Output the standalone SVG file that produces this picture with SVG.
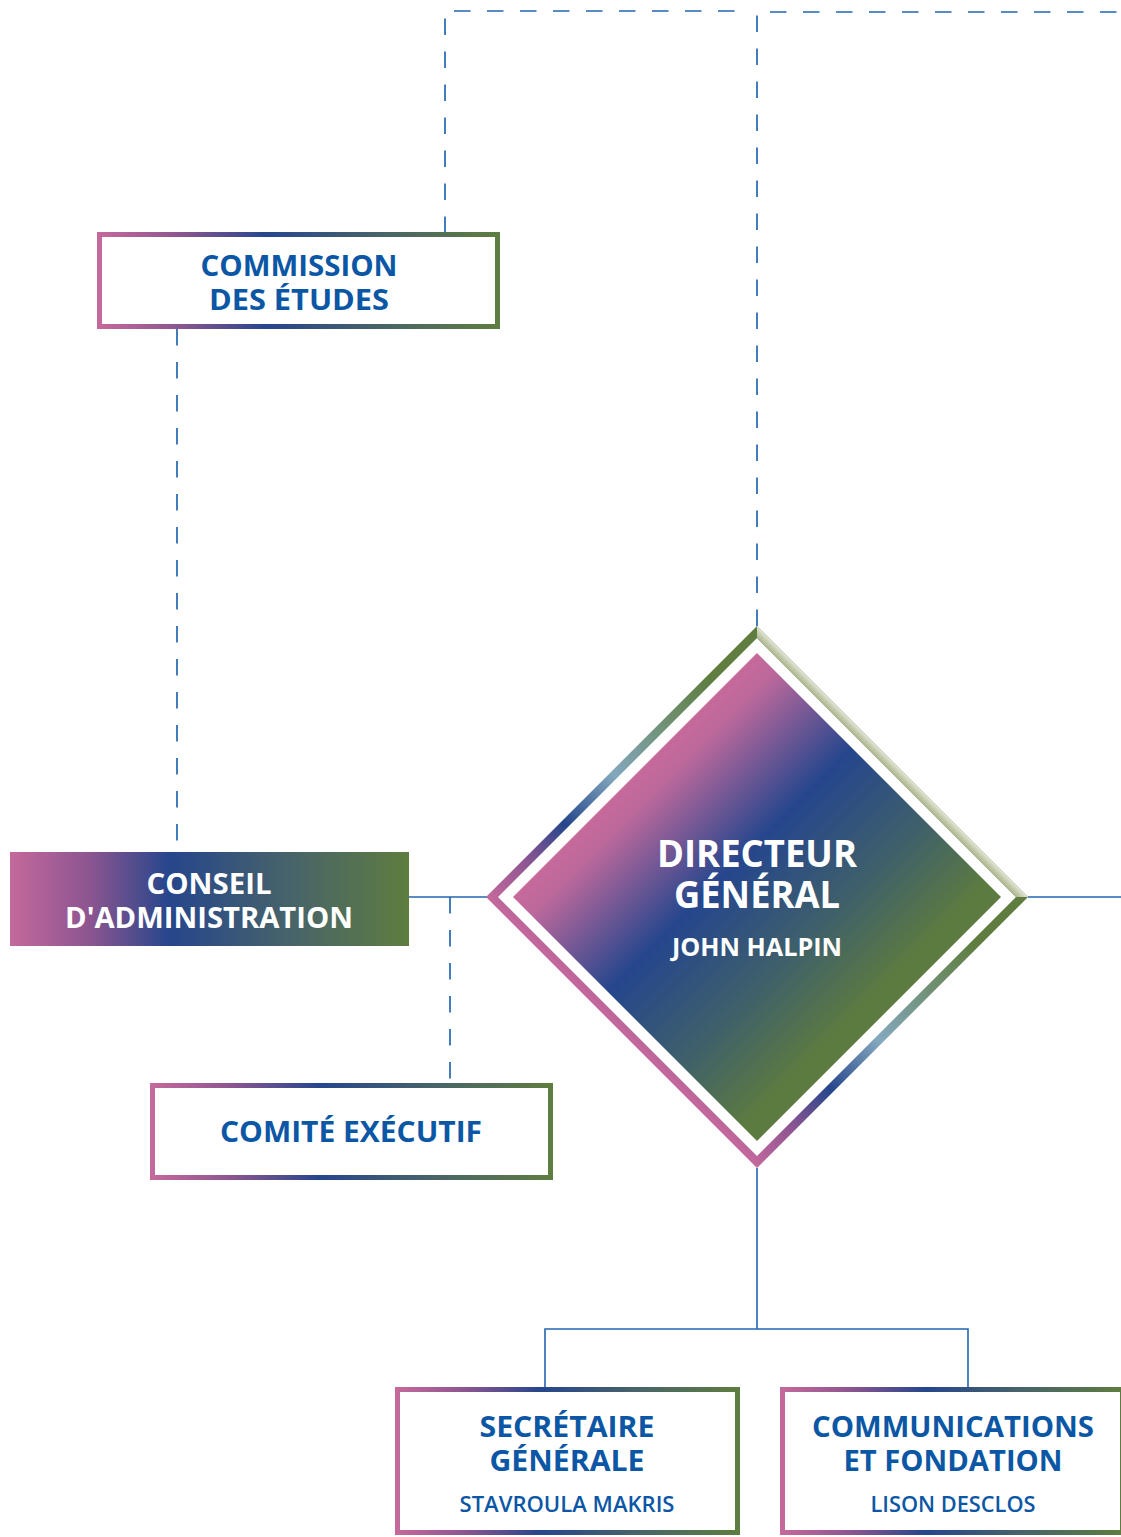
<svg xmlns="http://www.w3.org/2000/svg" width="1121" height="1537" viewBox="0 0 1121 1537">
<defs>
<linearGradient id="boxGrad" x1="0" y1="0" x2="1" y2="0">
<stop offset="0" stop-color="#c4699c"/>
<stop offset="0.2" stop-color="#8c5590"/>
<stop offset="0.42" stop-color="#26468c"/>
<stop offset="0.7" stop-color="#47636a"/>
<stop offset="1" stop-color="#5e7d3f"/>
</linearGradient>
<linearGradient id="fillGrad" x1="0" y1="0" x2="1" y2="0">
<stop offset="0" stop-color="#c4699c"/>
<stop offset="0.2" stop-color="#8c5590"/>
<stop offset="0.4" stop-color="#26468c"/>
<stop offset="0.7" stop-color="#47636a"/>
<stop offset="1" stop-color="#5e7d3f"/>
</linearGradient>
<linearGradient id="bandGrad" gradientUnits="userSpaceOnUse" x1="486" y1="1168" x2="1028" y2="626">
<stop offset="0.25" stop-color="#c4699c"/>
<stop offset="0.32" stop-color="#8d5592"/>
<stop offset="0.39" stop-color="#26468c"/>
<stop offset="0.48" stop-color="#84a8be"/>
<stop offset="0.58" stop-color="#6f8f70"/>
<stop offset="0.66" stop-color="#5e7d3f"/>
<stop offset="0.75" stop-color="#5e7d3f"/>
</linearGradient>
<linearGradient id="paleGrad" gradientUnits="userSpaceOnUse" x1="886.5" y1="767.5" x2="892.75" y2="761.25">
<stop offset="0" stop-color="#a9b48c"/>
<stop offset="1" stop-color="#e3e7d7"/>
</linearGradient>
<linearGradient id="diaGrad" gradientUnits="userSpaceOnUse" x1="486" y1="626" x2="1028" y2="1168">
<stop offset="0.27" stop-color="#c96a9c"/>
<stop offset="0.31" stop-color="#bb689b"/>
<stop offset="0.45" stop-color="#25468d"/>
<stop offset="0.58" stop-color="#3e5f6b"/>
<stop offset="0.7" stop-color="#5c7b40"/>
</linearGradient>
</defs>
<style>
.solid{fill:none;stroke:#2266b0;stroke-width:1.6}
.dash{fill:none;stroke:#2266b0;stroke-width:1.7;stroke-dasharray:16.5 16.5}
.box{fill:#ffffff;stroke:url(#boxGrad);stroke-width:5}
.t{font-family:"Open Sans","Noto Sans","DejaVu Sans",sans-serif;font-weight:700;text-anchor:middle}
.blue{fill:#0b57a5}
.white{fill:#ffffff}
.h{font-size:28px}
.n{font-size:22px;font-weight:600}
</style>
<g id="connectors">
<path class="dash" d="M445 233 V11 H745"/>
<path class="dash" d="M757 626 V12 H1121"/>
<path class="dash" d="M177 329 V852"/>
<path class="dash" d="M450 897 V1083"/>
<path class="solid" d="M409 897 H487"/>
<path class="solid" d="M1028 897 H1121"/>
<path class="solid" d="M757 1168 V1329"/>
<path class="solid" d="M545 1387 V1329 H968 V1387"/>
</g>
<g id="commission">
<rect class="box" x="99.5" y="234.5" width="398" height="92"/>
<text class="t blue h" x="299" y="276" textLength="197" lengthAdjust="spacingAndGlyphs">COMMISSION</text>
<text class="t blue h" x="299" y="310" textLength="180" lengthAdjust="spacingAndGlyphs">DES ÉTUDES</text>
</g>
<g id="conseil">
<rect x="10" y="852" width="399" height="94" fill="url(#fillGrad)"/>
<text class="t white h" x="209" y="894" textLength="125" lengthAdjust="spacingAndGlyphs">CONSEIL</text>
<text class="t white h" x="209" y="928" textLength="288" lengthAdjust="spacingAndGlyphs">D'ADMINISTRATION</text>
</g>
<g id="comite">
<rect class="box" x="152.5" y="1085.5" width="398" height="92"/>
<text class="t blue h" x="351" y="1142" textLength="262" lengthAdjust="spacingAndGlyphs">COMITÉ EXÉCUTIF</text>
</g>
<g id="directeur">
<path fill="url(#bandGrad)" fill-rule="evenodd" d="M757 626 L1028 897 L757 1168 L486 897 Z M757 638 L498 897 L757 1156 L1016 897 Z"/>
<polygon fill="url(#paleGrad)" points="757,626 1028,897 1016,897 757,638"/>
<polygon fill="url(#diaGrad)" points="757,653 1001,897 757,1141 513,897"/>
<text class="t white" x="757" y="867" font-size="37" textLength="200" lengthAdjust="spacingAndGlyphs">DIRECTEUR</text>
<text class="t white" x="757" y="908" font-size="37" textLength="166" lengthAdjust="spacingAndGlyphs">GÉNÉRAL</text>
<text class="t white" x="757" y="956" font-size="25" font-weight="600" textLength="170" lengthAdjust="spacingAndGlyphs">JOHN HALPIN</text>
</g>
<g id="secretaire">
<rect class="box" x="397.5" y="1389.5" width="340" height="143"/>
<text class="t blue h" x="567" y="1437" textLength="175" lengthAdjust="spacingAndGlyphs">SECRÉTAIRE</text>
<text class="t blue h" x="567" y="1471" textLength="155" lengthAdjust="spacingAndGlyphs">GÉNÉRALE</text>
<text class="t blue n" x="567" y="1512" textLength="215" lengthAdjust="spacingAndGlyphs">STAVROULA MAKRIS</text>
</g>
<g id="communications">
<rect class="box" x="782.5" y="1389.5" width="340" height="143"/>
<text class="t blue h" x="953" y="1437" textLength="282" lengthAdjust="spacingAndGlyphs">COMMUNICATIONS</text>
<text class="t blue h" x="953" y="1471" textLength="219" lengthAdjust="spacingAndGlyphs">ET FONDATION</text>
<text class="t blue n" x="953" y="1512" textLength="165" lengthAdjust="spacingAndGlyphs">LISON DESCLOS</text>
</g>
</svg>
